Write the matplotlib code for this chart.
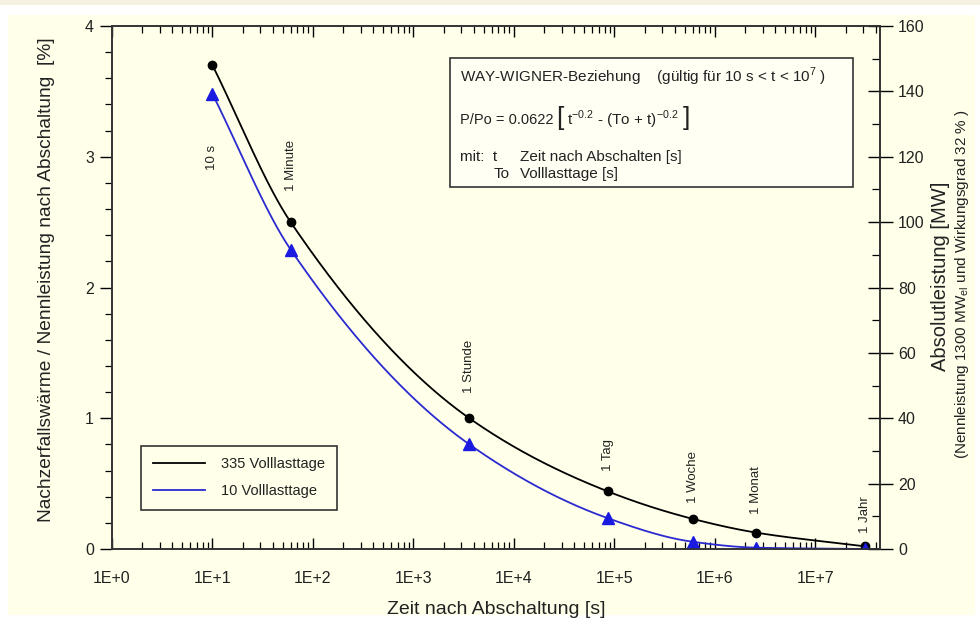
# Nachzerfallswaerme nach Abschaltung (Way-Wigner)
import matplotlib
matplotlib.use('Agg')
import matplotlib.pyplot as plt
import numpy as np
from matplotlib.patches import Rectangle

plt.rcParams['font.family'] = ['Liberation Sans', 'DejaVu Sans']
plt.rcParams['mathtext.fontset'] = 'custom'
plt.rcParams['mathtext.rm'] = 'Liberation Sans'

# Daten
zeit_s = [10, 60, 3600, 86400, 604800, 2592000, 31536000]
zeit_labels = ['10 s', '1 Minute', '1 Stunde', '1 Tag', '1 Woche', '1 Monat', '1 Jahr']
p_335 = [3.70, 2.50, 1.00, 0.44, 0.23, 0.125, 0.02]
p_10 = [3.48, 2.29, 0.80, 0.235, 0.055, 0.01, 0.0]
label_y = [2.90, 2.74, 1.19, 0.60, 0.35, 0.27, 0.12]

x_ticks = [1, 10, 100, 1e3, 1e4, 1e5, 1e6, 1e7]
x_ticklabels = ['1E+0', '1E+1', '1E+2', '1E+3', '1E+4', '1E+5', '1E+6', '1E+7']

BG = '#FFFFEA'
TXT = '#222222'


def px(x, y):
    # Pixel -> Figurkoordinaten
    return x / 980.0, 1 - y / 625.0


def smooth_line(x, y, n=200):
    # monotone kubische Kurve (Fritsch-Carlson) in log-x, nur zum Zeichnen
    lx = np.log10(np.asarray(x, float))
    y = np.asarray(y, float)
    h = np.diff(lx)
    d = np.diff(y) / h
    m = np.zeros_like(y)
    m[0], m[-1] = d[0], d[-1]
    for i in range(1, len(y) - 1):
        if d[i - 1] * d[i] > 0:
            w1 = 2 * h[i] + h[i - 1]
            w2 = h[i] + 2 * h[i - 1]
            m[i] = (w1 + w2) / (w1 / d[i - 1] + w2 / d[i])
    xs, ys = [], []
    for i in range(len(h)):
        t = np.linspace(0, 1, n)
        h00 = 2 * t**3 - 3 * t**2 + 1
        h10 = t**3 - 2 * t**2 + t
        h01 = -2 * t**3 + 3 * t**2
        h11 = t**3 - t**2
        xs.append(lx[i] + t * h[i])
        ys.append(h00 * y[i] + h10 * h[i] * m[i] + h01 * y[i + 1] + h11 * h[i] * m[i + 1])
    return 10 ** np.concatenate(xs), np.concatenate(ys)


fig = plt.figure(figsize=(9.8, 6.25), dpi=100)
fig.patch.set_facecolor('white')
fig.add_artist(Rectangle(px(0, 5), 1, 5 / 625.0, transform=fig.transFigure,
                         facecolor='#F6F2E2', edgecolor='none', zorder=-2))
fig.add_artist(Rectangle(px(8, 615), 967 / 980.0, 600 / 625.0, transform=fig.transFigure,
                         facecolor=BG, edgecolor='none', zorder=-1))

ax = fig.add_axes([112 / 980.0, 1 - 549 / 625.0, 768 / 980.0, 523 / 625.0])
ax.set_facecolor(BG)
ax.set_xscale('log')
ax.set_xlim(1, 4.4e7)
ax.set_ylim(0, 4)

# Kurven
xs, ys = smooth_line(zeit_s, p_335)
ax.plot(xs, ys, color='black', lw=1.3, label='335 Volllasttage', zorder=3)
ax.plot(zeit_s, p_335, 'o', color='black', ms=6, zorder=4)
xs, ys = smooth_line(zeit_s, p_10)
ax.plot(xs, ys, color='#2a2ad0', lw=1.3, label='10 Volllasttage', zorder=3)
ax.plot(zeit_s, p_10, '^', color='#1a1ae0', ms=9, zorder=4)

for t, lab, yl in zip(zeit_s, zeit_labels, label_y):
    ax.text(t, yl, lab, rotation=90, ha='center', va='bottom', fontsize=9.5, color=TXT)

# Achsen
ax.set_xticks(x_ticks)
ax.set_xticklabels(x_ticklabels)
ax.tick_params(axis='x', which='major', direction='in', length=8, width=1, top=True,
               labelsize=11.5, pad=16, labelcolor=TXT)
ax.tick_params(axis='x', which='minor', direction='in', length=5, width=0.9, top=True)
ax.set_yticks([0, 1, 2, 3, 4])
ax.set_yticks(np.arange(0, 4.01, 0.2), minor=True)
ax.tick_params(axis='y', which='major', direction='out', length=9, width=1,
               labelsize=11.5, pad=4, labelcolor=TXT)
ax.tick_params(axis='y', which='minor', direction='out', length=5, width=0.9)
for s in ax.spines.values():
    s.set_color('#333333')
    s.set_linewidth(1.2)

ax.set_xlabel('Zeit nach Abschaltung [s]', fontsize=14, color=TXT)
ax.xaxis.set_label_coords(0.5, -0.1)
ax.set_ylabel('Nachzerfallswärme / Nennleistung nach Abschaltung  [%]', fontsize=13.8, color=TXT)
ax.yaxis.set_label_coords(-0.074, 0.515)

ax2 = ax.twinx()
ax2.set_ylim(0, 160)
ax2.set_yticks(np.arange(0, 161, 20))
ax2.set_yticks(np.arange(0, 161, 10), minor=True)
ax2.tick_params(axis='y', which='major', direction='inout', length=18, width=1,
                labelsize=11.5, pad=4, labelcolor=TXT)
ax2.tick_params(axis='y', which='minor', direction='in', length=6, width=0.9)
for s in ax2.spines.values():
    s.set_color('#333333')
    s.set_linewidth(1.2)

fig.text(*px(940, 276), 'Absolutleistung [MW]', rotation=90, ha='center', va='center',
         fontsize=14.5, color=TXT)
fig.text(*px(962, 284), '(Nennleistung 1300 MW$_{\\mathregular{el}}$ und Wirkungsgrad 32 % )',
         rotation=90, ha='center', va='center', fontsize=11, color=TXT)

# Legende
leg = ax.legend(loc='lower left', bbox_to_anchor=px(141, 510), bbox_transform=fig.transFigure,
                borderaxespad=0, fontsize=10.5, handlelength=3.6, handletextpad=1.1,
                fancybox=False, framealpha=1, edgecolor='#333333', borderpad=0.8,
                labelspacing=0.9, facecolor=BG)
leg.get_frame().set_linewidth(1.2)
for t in leg.get_texts():
    t.set_color(TXT)

# Formelkasten
fig.add_artist(Rectangle(px(450, 187), 403 / 980.0, 129 / 625.0, transform=fig.transFigure,
                         facecolor='#FFFFF4', edgecolor='#333333', lw=1.2, zorder=5))
kw = dict(va='center', color=TXT, zorder=6)
fig.text(*px(460, 77), 'WAY-WIGNER-Beziehung    (gültig für 10 s < t < 10$^{\\mathregular{7}}$ )',
         fontsize=11, **kw)

# Formelzeile: Teile nacheinander setzen
renderer = fig.canvas.get_renderer()
parts = [('P/Po = 0.0622', 10.5, 3), ('[', 19, 3),
         ('t$^{\\mathregular{-0.2}}$ - (To + t)$^{\\mathregular{-0.2}}$', 11, 4), (']', 19, 0)]
x_cur = 460
for txt, fs, gap in parts:
    yy = 118 if fs > 12 else 120
    t = fig.text(*px(x_cur, yy), txt, fontsize=fs, **kw)
    bb = t.get_window_extent(renderer)
    x_cur = bb.x1 + gap

fig.text(*px(460, 157), 'mit:  t', fontsize=11, **kw)
fig.text(*px(520, 157), 'Zeit nach Abschalten [s]', fontsize=11, **kw)
fig.text(*px(494, 174), 'To', fontsize=11, **kw)
fig.text(*px(520, 174), 'Volllasttage [s]', fontsize=11, **kw)

fig.savefig('out.png', dpi=100, facecolor=fig.get_facecolor())
